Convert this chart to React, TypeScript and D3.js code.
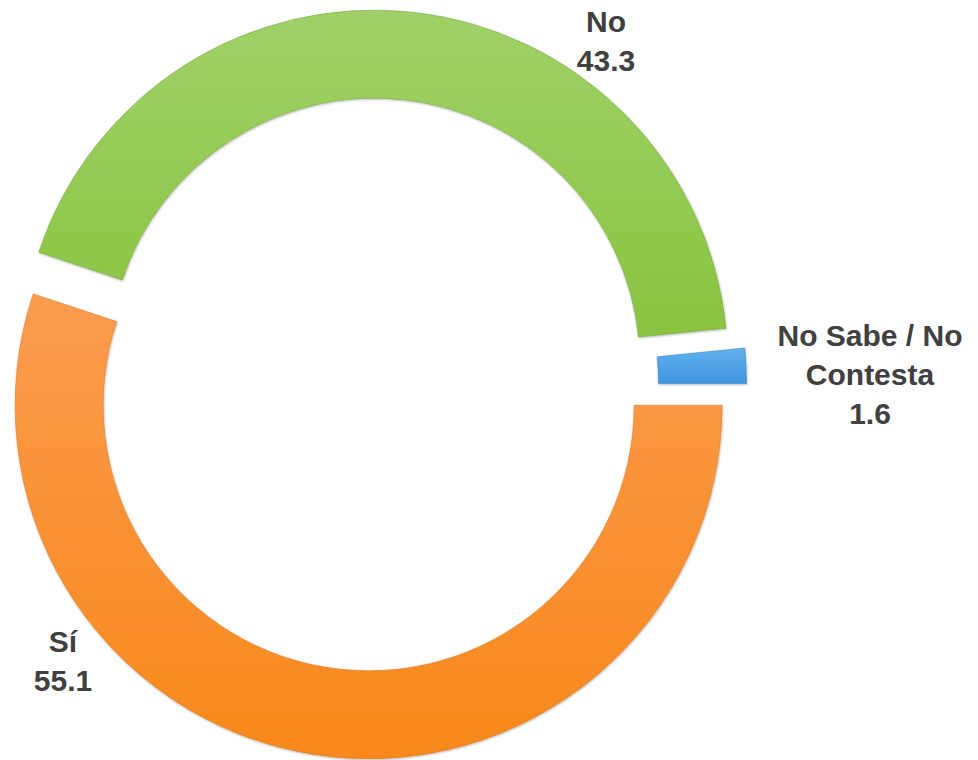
import { useEffect, useRef } from "react";
import * as d3 from "d3";

// data
const categories = ["Sí", "No", "No Sabe / No Contesta"];
const values = [55.1, 43.3, 1.6];
const labelLines = [["Sí"], ["No"], ["No Sabe / No", "Contesta"]];

// styling (light top / darker bottom of each ring piece)
const colorsTop = ["#fb9c4f", "#a0d168", "#62b0ee"];
const colorsBottom = ["#f8881a", "#89c43f", "#3d95e0"];
const colorsEdge = ["#d9711a", "#6f9f34", "#2f78b8"];

// label anchors relative to the ring centre (first baseline)
const labelOffsets = [
  [-309, 267.5],
  [234, -352.5],
  [498, -38.5],
];

export default function App() {
  const ref = useRef<SVGSVGElement>(null);
  const width = 978;
  const height = 760;
  const cx = 372;
  const cy = 384.5;
  const outerR = 353.5;
  const innerR = 265.5;
  const explode = 21;
  const lineH = 39;

  useEffect(() => {
    if (!ref.current) return;
    const svg = d3.select(ref.current);
    svg.selectAll("*").remove();

    const defs = svg.append("defs");
    values.forEach((_, i) => {
      const grad = defs.append("linearGradient")
        .attr("id", `grad${i}`)
        .attr("x1", 0).attr("y1", 0)
        .attr("x2", 0).attr("y2", 1);
      grad.append("stop").attr("offset", "0%").attr("stop-color", colorsTop[i]);
      grad.append("stop").attr("offset", "100%").attr("stop-color", colorsBottom[i]);
    });
    const shadow = defs.append("filter")
      .attr("id", "shade")
      .attr("x", "-5%").attr("y", "-5%")
      .attr("width", "110%").attr("height", "110%");
    shadow.append("feDropShadow")
      .attr("dx", 0.5).attr("dy", 1)
      .attr("stdDeviation", 1)
      .attr("flood-color", "#000")
      .attr("flood-opacity", 0.3);

    const pie = d3.pie<number>()
      .sort(null)
      .value(d => d)
      .startAngle(Math.PI / 2)
      .endAngle(Math.PI / 2 + Math.PI * 2);

    const arc = d3.arc<d3.PieArcDatum<number>>()
      .innerRadius(innerR)
      .outerRadius(outerR);

    const arcs = pie(values);
    const g = svg.append("g").attr("transform", `translate(${cx}, ${cy})`);

    g.selectAll(".slice")
      .data(arcs)
      .enter()
      .append("path")
      .attr("class", "slice")
      .attr("transform", d => {
        const mid = (d.startAngle + d.endAngle) / 2;
        return `translate(${Math.sin(mid) * explode}, ${-Math.cos(mid) * explode})`;
      })
      .attr("d", arc)
      .attr("fill", (d, i) => `url(#grad${i})`)
      .attr("stroke", (d, i) => colorsEdge[i])
      .attr("stroke-width", 0.8)
      .attr("stroke-opacity", 0.6)
      .style("filter", "url(#shade)");

    const labels = g.selectAll(".label")
      .data(arcs)
      .enter()
      .append("text")
      .attr("class", "label")
      .attr("text-anchor", "middle")
      .style("font-family", "'Liberation Sans', Arial, sans-serif")
      .style("font-weight", "bold")
      .style("font-size", "30px")
      .style("fill", "#404040");

    labels.each(function (d, i) {
      const t = d3.select(this);
      const lines = [...labelLines[i], values[i].toFixed(1)];
      lines.forEach((line, k) => {
        t.append("tspan")
          .attr("x", labelOffsets[i][0])
          .attr("y", labelOffsets[i][1] + k * lineH)
          .text(line);
      });
    });
  }, []);

  return (
    <div style={{ position: "absolute", left: 0, top: 0, width, height, background: "#fff" }}>
      <svg ref={ref} width={width} height={height} viewBox={`0 0 ${width} ${height}`} aria-label={categories.join(", ")} />
    </div>
  );
}
